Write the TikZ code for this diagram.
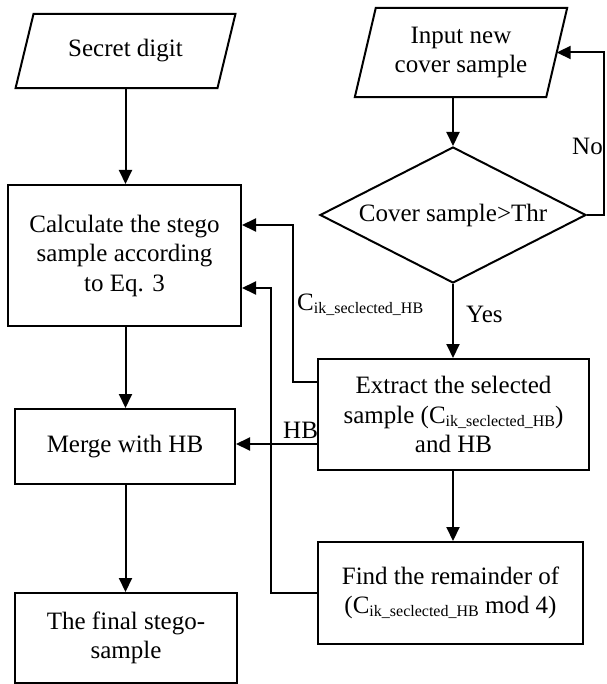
\documentclass[tikz,border=0pt]{standalone}
\usepackage{fontspec}
\setmainfont{Liberation Serif}
\usetikzlibrary{arrows.meta,shapes.geometric,calc}
\newcommand{\lowidx}[1]{\raisebox{-3pt}{\fontsize{16}{16}\selectfont #1}}
\newcommand{\Cik}{C\lowidx{ik\textunderscore seclected\textunderscore HB}}

\begin{document}
\begin{tikzpicture}[x=1pt,y=-1pt,
  every node/.style={font=\fontsize{25}{29.5}\selectfont},
  proc/.style={draw, line width=2pt, align=center, inner sep=0pt},
  iobody/.style={inner sep=0pt, align=center},
  decide/.style={draw, diamond, line width=2pt, inner sep=0pt, shape aspect=1.956,
    minimum width=266pt, minimum height=136pt},
  link/.style={line width=2pt},
  arr/.style={link, -{Triangle[length=14pt,width=13pt]}},
  lbl/.style={inner sep=0pt}
]
\useasboundingbox (0,0) rectangle (606,684);

% input shapes: a text body with a slanted outline around it
\node[iobody, minimum width=201.5pt, minimum height=74pt] (sd) at (125.5,51) {Secret digit};
\draw[link] ([xshift=-9pt]sd.south west) -- ([xshift=-9pt]sd.south east)
  -- ([xshift=9pt]sd.north east) -- ([xshift=9pt]sd.north west) -- cycle;

\node[iobody, minimum width=191pt, minimum height=89pt] (in) at (461,52.5) {Input new\\cover sample};
\draw[link] ([xshift=-10.5pt]in.south west) -- ([xshift=-10.5pt]in.south east)
  -- ([xshift=10.5pt]in.north east) -- ([xshift=10.5pt]in.north west) -- cycle;

% decision
\node[decide] (dia) at (453,215) {Cover sample>Thr};

% process boxes
\node[proc, minimum width=233pt, minimum height=141pt] (calc) at (124.5,255.5)
  {Calculate the stego\\sample according\\to Eq. 3};
\node[proc, minimum width=220pt, minimum height=75pt] (merge) at (125,446.5) {Merge with HB};
\node[proc, minimum width=222pt, minimum height=90pt] (final) at (126,638)
  {The final stego-\\sample};
\node[proc, minimum width=271pt, minimum height=111pt] (ext) at (453.5,414.5)
  {Extract the selected\\sample (\Cik)\\and HB};
\node[proc, minimum width=265pt, minimum height=102pt] (find) at (450.5,593)
  {Find the remainder of\\(\Cik{} mod 4)};

% main flow
\draw[arr] (sd.south) -- (sd.south |- calc.north);
\draw[arr] (sd.south |- calc.south) -- (sd.south |- merge.north);
\draw[arr] (sd.south |- merge.south) -- (sd.south |- final.north);
\draw[arr] (dia.north |- in.south) -- (dia.north);
\draw[arr] (dia.south) -- (dia.south |- ext.north);
\draw[arr] (ext.south -| dia.south) -- (find.north -| dia.south);

% "No" loop back to the input
\coordinate (loopR) at (604,215);
\draw[arr] (dia.east) -- (loopR) |- (in.east);

% feedback into the stego calculation
\draw[arr] ([yshift=-24pt]ext.north west) -- ++(-24,0) |- ([yshift=30.5pt]calc.east);
\draw[arr] (find.west) -- ++(-46,0) |- ([yshift=-32.5pt]calc.east);
\draw[arr] ([yshift=-29.5pt]ext.west) coordinate (hbs) -- (hbs -| merge.east);

% labels
\node[lbl, anchor=base west] (lc) at (297,310) {\Cik};
\node[lbl, anchor=base west] (lyes) at (466,322) {Yes};
\node[lbl, anchor=base west] (lno) at (572,155) {No};
\node[lbl, anchor=base west] (lhb) at (283,438) {HB};
\end{tikzpicture}
\end{document}
